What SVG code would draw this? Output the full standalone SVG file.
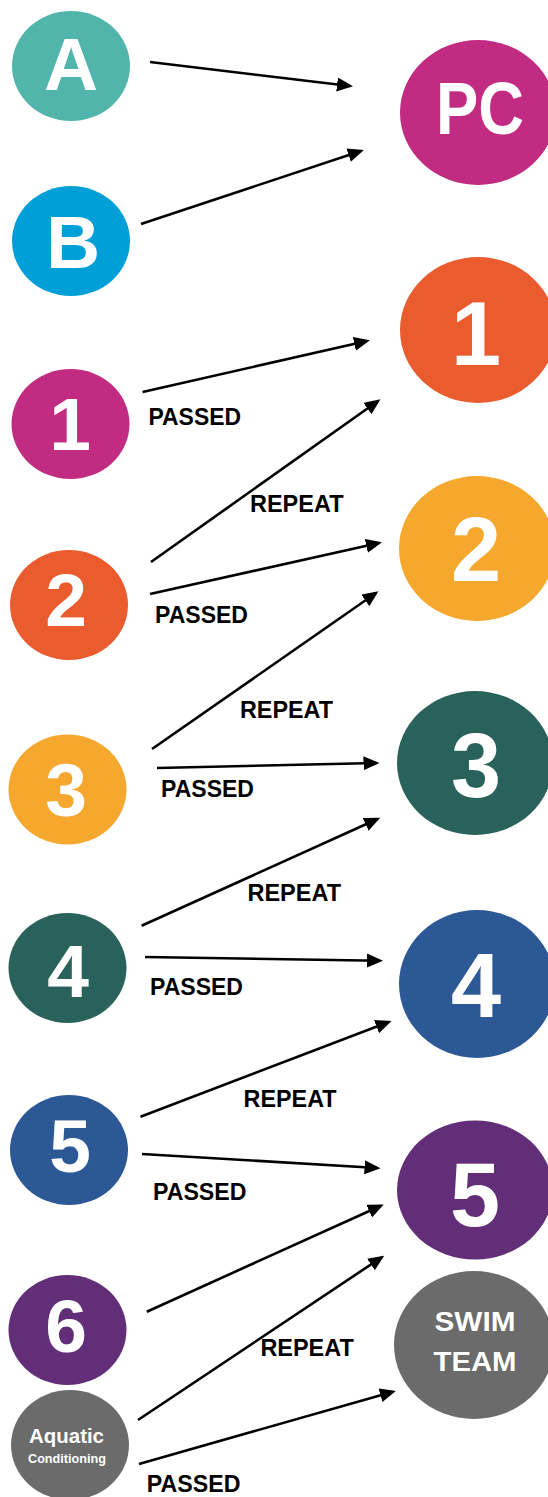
<svg xmlns="http://www.w3.org/2000/svg" width="548" height="1497" viewBox="0 0 548 1497">
<style>
.lbl{font-family:"Liberation Sans",Arial,sans-serif;font-weight:bold;font-size:23.5px;fill:#000}
.num{font-family:"Liberation Sans",Arial,sans-serif;font-weight:bold;fill:#fff;text-anchor:middle}
.sm{font-size:75px}
.bg{font-size:90px}
.conn line{stroke:#000;stroke-width:2.6;fill:none;marker-end:url(#ah)}
</style>
<defs>
<marker id="ah" markerUnits="userSpaceOnUse" markerWidth="17" markerHeight="15" refX="13" refY="7" orient="auto">
<path d="M0,0 L16,7 L0,14 z" fill="#000"/>
</marker>
</defs>
<rect width="548" height="1497" fill="#fff"/>

<g id="left-A"><ellipse cx="71" cy="66" rx="59" ry="55" fill="#52B5AC"/><text class="num sm" x="71" y="90">A</text></g>
<g id="left-B"><ellipse cx="71" cy="241" rx="59" ry="55" fill="#009FD8"/><text class="num sm" x="73" y="268">B</text></g>
<g id="left-1"><ellipse cx="70.5" cy="424" rx="59" ry="55" fill="#C22B82"/><text class="num sm" x="70" y="450">1</text></g>
<g id="left-2"><ellipse cx="69" cy="605" rx="59" ry="55" fill="#EA5B2E"/><text class="num sm" x="66" y="626">2</text></g>
<g id="left-3"><ellipse cx="67.5" cy="789.5" rx="59" ry="55" fill="#F6A82E"/><text class="num sm" x="66" y="816">3</text></g>
<g id="left-4"><ellipse cx="67.5" cy="968" rx="59" ry="55" fill="#29625B"/><text class="num sm" x="68" y="997">4</text></g>
<g id="left-5"><ellipse cx="69" cy="1150" rx="59" ry="55" fill="#2D5896"/><text class="num sm" x="70" y="1172">5</text></g>
<g id="left-6"><ellipse cx="67.5" cy="1330" rx="59" ry="55" fill="#632E78"/><text class="num sm" x="66" y="1352">6</text></g>
<g id="left-aquatic"><ellipse cx="70" cy="1445" rx="59" ry="55" fill="#6B6B6B"/>
<text class="num" x="66.5" y="1443" font-size="19.5" textLength="75" lengthAdjust="spacingAndGlyphs">Aquatic</text>
<text class="num" x="67" y="1463" font-size="12.5" textLength="78" lengthAdjust="spacingAndGlyphs">Conditioning</text></g>

<g id="right-PC"><ellipse cx="478" cy="112.5" rx="78" ry="72.5" fill="#C22B82"/><text class="num sm" x="480" y="134" textLength="88" lengthAdjust="spacingAndGlyphs">PC</text></g>
<g id="right-1"><ellipse cx="478" cy="330" rx="78" ry="73" fill="#EA5B2E"/><text class="num bg" x="476" y="365">1</text></g>
<g id="right-2"><ellipse cx="477" cy="548.5" rx="78" ry="72.5" fill="#F6A82E"/><text class="num bg" x="476" y="581">2</text></g>
<g id="right-3"><ellipse cx="475" cy="763" rx="78" ry="72" fill="#29625B"/><text class="num bg" x="476" y="797">3</text></g>
<g id="right-4"><ellipse cx="477" cy="984" rx="78" ry="74" fill="#2D5896"/><text class="num bg" x="476" y="1017">4</text></g>
<g id="right-5"><ellipse cx="475" cy="1190" rx="78" ry="69.5" fill="#632E78"/><text class="num bg" x="475" y="1226">5</text></g>
<g id="right-swim"><ellipse cx="474" cy="1345" rx="80" ry="74" fill="#6B6B6B"/>
<text class="num" x="475" y="1331" font-size="27" textLength="81" lengthAdjust="spacingAndGlyphs">SWIM</text>
<text class="num" x="475" y="1371" font-size="27" textLength="83" lengthAdjust="spacingAndGlyphs">TEAM</text></g>

<g id="connectors" class="conn">
<line x1="150" y1="62" x2="350" y2="86"/>
<line x1="141" y1="224" x2="361" y2="151"/>
<line x1="142.6" y1="392" x2="367" y2="341"/>
<line x1="151" y1="562" x2="378" y2="401"/>
<line x1="150" y1="594" x2="379" y2="543"/>
<line x1="152" y1="749" x2="376" y2="593"/>
<line x1="157" y1="768" x2="376.5" y2="763"/>
<line x1="141.6" y1="925.7" x2="377.5" y2="819"/>
<line x1="145" y1="957" x2="380" y2="960.7"/>
<line x1="140.5" y1="1116.7" x2="388.7" y2="1022"/>
<line x1="142" y1="1154" x2="377.5" y2="1168"/>
<line x1="146.8" y1="1311.7" x2="381" y2="1205.7"/>
<line x1="138" y1="1420" x2="381.7" y2="1257.3"/>
<line x1="139" y1="1464" x2="393" y2="1391.7"/>
</g>

<g id="labels">
<text class="lbl" x="148.5" y="425" textLength="92.5" lengthAdjust="spacingAndGlyphs">PASSED</text>
<text class="lbl" x="250" y="512" textLength="93.5" lengthAdjust="spacingAndGlyphs">REPEAT</text>
<text class="lbl" x="155" y="623" textLength="93" lengthAdjust="spacingAndGlyphs">PASSED</text>
<text class="lbl" x="240" y="717.7" textLength="93" lengthAdjust="spacingAndGlyphs">REPEAT</text>
<text class="lbl" x="161" y="797" textLength="93" lengthAdjust="spacingAndGlyphs">PASSED</text>
<text class="lbl" x="247.5" y="900.7" textLength="93.5" lengthAdjust="spacingAndGlyphs">REPEAT</text>
<text class="lbl" x="150" y="995" textLength="93" lengthAdjust="spacingAndGlyphs">PASSED</text>
<text class="lbl" x="243.6" y="1106.7" textLength="93" lengthAdjust="spacingAndGlyphs">REPEAT</text>
<text class="lbl" x="153" y="1200" textLength="93.4" lengthAdjust="spacingAndGlyphs">PASSED</text>
<text class="lbl" x="260.4" y="1356" textLength="93.3" lengthAdjust="spacingAndGlyphs">REPEAT</text>
<text class="lbl" x="146.8" y="1492" font-size="22.5" textLength="93.7" lengthAdjust="spacingAndGlyphs">PASSED</text>
</g>
</svg>
